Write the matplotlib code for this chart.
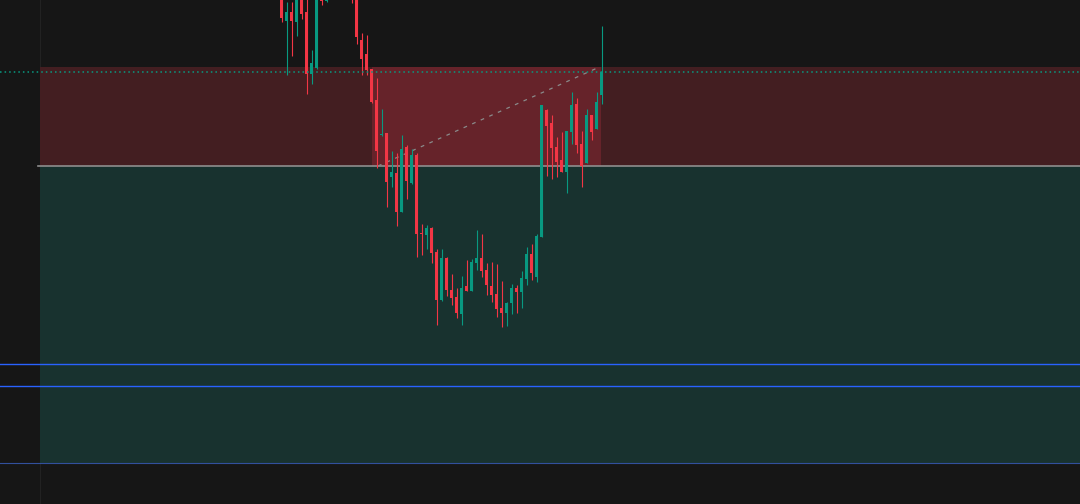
import matplotlib
matplotlib.use("Agg")
import matplotlib.pyplot as plt
import numpy as np

# OHLC (price units = pixels above the bottom edge)
opens = [514, 483.3, 492, 482.3, 512, 492, 430, 436, 509, 503,
         509, 520, 515, 522, 512, 509, 464, 450, 435, 404,
         369.5, 371, 327.3, 331.3, 292.3, 357, 320.7, 349, 271, 269,
         276, 252, 204, 246, 214, 207, 190, 218, 213, 241,
         246, 234, 218, 210, 196, 191.3, 200.7, 216, 212, 225.3,
         250, 227.3, 267.3, 394.5, 381, 357.3, 344, 332, 372, 400,
         360, 341.3, 389, 375, 409]
highs = [519, 502.3, 502.3, 514, 519, 509, 454, 524, 514, 514,
         525, 528, 526, 525, 516, 512, 471.3, 469, 435, 426,
         395, 371, 353, 351, 369, 359, 355, 351, 280, 279,
         277, 255, 255, 247.3, 230, 216, 228, 244, 244.7, 274,
         270, 241, 242, 240, 223, 202, 220, 219, 233, 257,
         260, 270, 399, 395.3, 389, 367.3, 372, 373, 412.3, 406,
         373, 395, 389, 412, 478]
lows = [482, 429, 448, 468, 485, 410, 420, 435, 499, 502,
        505, 512, 511, 510, 501, 460, 429.3, 429.3, 401.3, 336,
        368.3, 297.3, 317.3, 278, 292, 305, 320, 247.3, 249, 255,
        241.3, 179, 203, 208, 199, 186.3, 179, 213, 213, 234,
        227, 209, 202, 187.3, 177.3, 178, 190.5, 191.3, 196, 219.3,
        224, 222.3, 267, 328, 325, 327, 332, 311.3, 360, 351.3,
        317.3, 341.3, 364, 375, 400]
closes = [486, 492, 483.3, 509, 490, 430, 441, 514, 503, 509,
          520, 515, 522, 514, 504, 467.3, 445, 434.3, 402.3, 353.3,
          370.5, 322.3, 332.3, 292.3, 355, 323.3, 349, 270, 270, 276,
          251.3, 204, 246, 214, 206, 191, 216, 213, 242, 246,
          233.3, 219, 209.3, 195.3, 191.3, 201, 216, 212, 226, 250,
          231.3, 268, 399, 378, 356, 342, 332, 373, 399, 359.3,
          338, 389, 372, 402, 432]

# short position tool levels
stop_level = 437
entry_level = 338
target_level = 41
blue_levels = [140, 118]
box_start = -48.3
fill_start = 18.1
fill_end = 63.9

bg = "#161616"
up_col = "#089981"
down_col = "#f23645"

fig = plt.figure(figsize=(10.8, 5.04), dpi=100, facecolor=bg)
ax = fig.add_axes([0, 0, 1, 1])
ax.set_facecolor(bg)
x_left, x_right = -56.3, 159.7
ax.set_xlim(x_left, x_right)
ax.set_ylim(0, 504)
ax.axis("off")

# grid line
ax.axvline(box_start, color="#222222", lw=0.8, zorder=0)

# risk / reward zones
ax.fill_between([box_start, x_right], entry_level, stop_level, color="#431e21", lw=0, zorder=1)
ax.fill_between([fill_start, fill_end], entry_level, stop_level, color="#66232a", lw=0, zorder=1)
ax.fill_between([box_start, x_right], target_level, entry_level, color="#18322f", lw=0, zorder=1)
ax.plot([box_start - 0.4, x_right], [entry_level, entry_level], color="#8e8e8e", lw=1.2, zorder=2)
ax.axhline(target_level, color="#3a5fc0", lw=0.8, alpha=0.8, zorder=2)
for lv in blue_levels:
    ax.axhline(lv, color="#2962ff", lw=1.0, zorder=2)

# dashed path from entry to current price
ax.plot([19.3, 63.6], [entry_level, stop_level], color="#8a8a8a", lw=0.9,
        dashes=(3, 4.5), zorder=3)

# candles
idx = np.arange(len(opens))
o = np.array(opens)
c = np.array(closes)
colors = [up_col if cc >= oo else down_col for oo, cc in zip(o, c)]
ax.vlines(idx, lows, highs, colors=colors, lw=0.8, zorder=4)
heights = np.maximum(np.abs(c - o), 1.0)
ax.bar(idx, heights, bottom=np.minimum(o, c), width=0.62, color=colors,
       lw=0, zorder=5)

# last price line
ax.axhline(closes[-1], color=up_col, lw=1.1, dashes=(1, 2), zorder=6)

fig.savefig("out.png", dpi=100, facecolor=bg)
